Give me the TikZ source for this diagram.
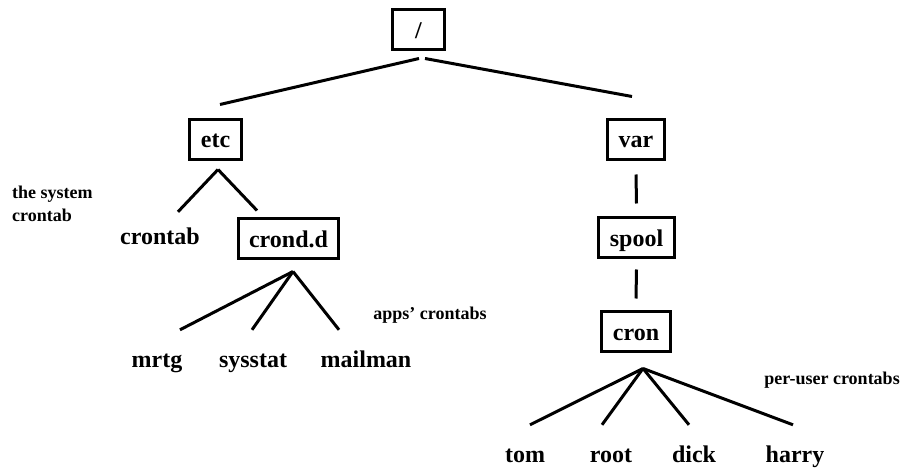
\documentclass[tikz,border=0pt]{standalone}
\usepackage{fontspec}
\setmainfont{Liberation Serif}
\usepackage{tikz}
\usetikzlibrary{positioning, calc}

\tikzset{
  dir/.style={draw, line width=3pt, font=\bfseries\fontsize{24}{28}\selectfont,
    inner xsep=11pt, inner ysep=0pt, minimum width=52pt, minimum height=40pt,
    text height=17pt, text depth=0pt},
  file/.style={font=\bfseries\fontsize{24}{28}\selectfont, inner sep=0pt,
    text height=16pt, text depth=5pt, anchor=base},
  note/.style={font=\bfseries\fontsize{18}{23}\selectfont, inner sep=0pt, align=left},
  link/.style={line width=3pt}
}

\begin{document}
\begin{tikzpicture}[x=1pt, y=1pt]
      \useasboundingbox (0,0) rectangle (907,469);

      % directories
      \node[dir] (root) at (418.5,439) {/};
      \node[dir] (etc) at (215.5,329.5) {etc};
      \node[dir] (var) at (636,329.5) {var};
      \node[dir] (crondd) at (288.5,230.5) {crond.d};
      \node[dir] (spool) at (636.5,231) {spool};
      \node[dir] (cron) at (636,137.5) {cron};

      % files
      \node[file] (crontab) at (160,224) {crontab};
      \node[file] (mrtg) at (157,102) {mrtg};
      \node[file] (sysstat) at (253,102) {sysstat};
      \node[file] (mailman) at (366,102) {mailman};
      \node[file] (tom) at (525,7) {tom};
      \node[file] (rootuser) at (611,7) {root};
      \node[file] (dick) at (694,7) {dick};
      \node[file] (harry) at (795,7) {harry};

      % notes
      \node[note, anchor=base west] (sysnote) at (12,247) {the system\\crontab};
      \node[note, anchor=base] (appsnote) at (430,150) {apps' crontabs};
      \node[note, anchor=base] (usernote) at (832,85) {per-user crontabs};

      % links
      \draw[link] ([shift={(0.5,-7)}]root.south) -- ([shift={(4.5,13.5)}]etc.north);
      \draw[link] ([shift={(6.5,-7)}]root.south) -- ([shift={(-4,21.5)}]var.north);

      \draw[link] ([shift={(2.5,-8.5)}]etc.south) -- ([shift={(18,17)}]crontab.north);
      \draw[link] ([shift={(2.5,-8.5)}]etc.south) -- ([shift={(-31.5,6.5)}]crondd.north);

      \draw[link] ([shift={(4.5,-11.5)}]crondd.south) -- ([shift={(23,21)}]mrtg.north);
      \draw[link] ([shift={(4.5,-11.5)}]crondd.south) -- ([shift={(-1,21)}]sysstat.north);
      \draw[link] ([shift={(4.5,-11.5)}]crondd.south) -- ([shift={(-27,21)}]mailman.north);

      \draw[link] ([yshift=-13.5]var.south) -- ([yshift=13]spool.north);
      \draw[link] ([yshift=-10]spool.south) -- ([yshift=11.5]cron.north);

      \draw[link] ([shift={(7,-15.5)}]cron.south) -- ([shift={(5,21)}]tom.north);
      \draw[link] ([shift={(7,-15.5)}]cron.south) -- ([shift={(-9,21)}]rootuser.north);
      \draw[link] ([shift={(7,-15.5)}]cron.south) -- ([shift={(-5,21)}]dick.north);
      \draw[link] ([shift={(7,-15.5)}]cron.south) -- ([shift={(-2,21)}]harry.north);
\end{tikzpicture}
\end{document}
